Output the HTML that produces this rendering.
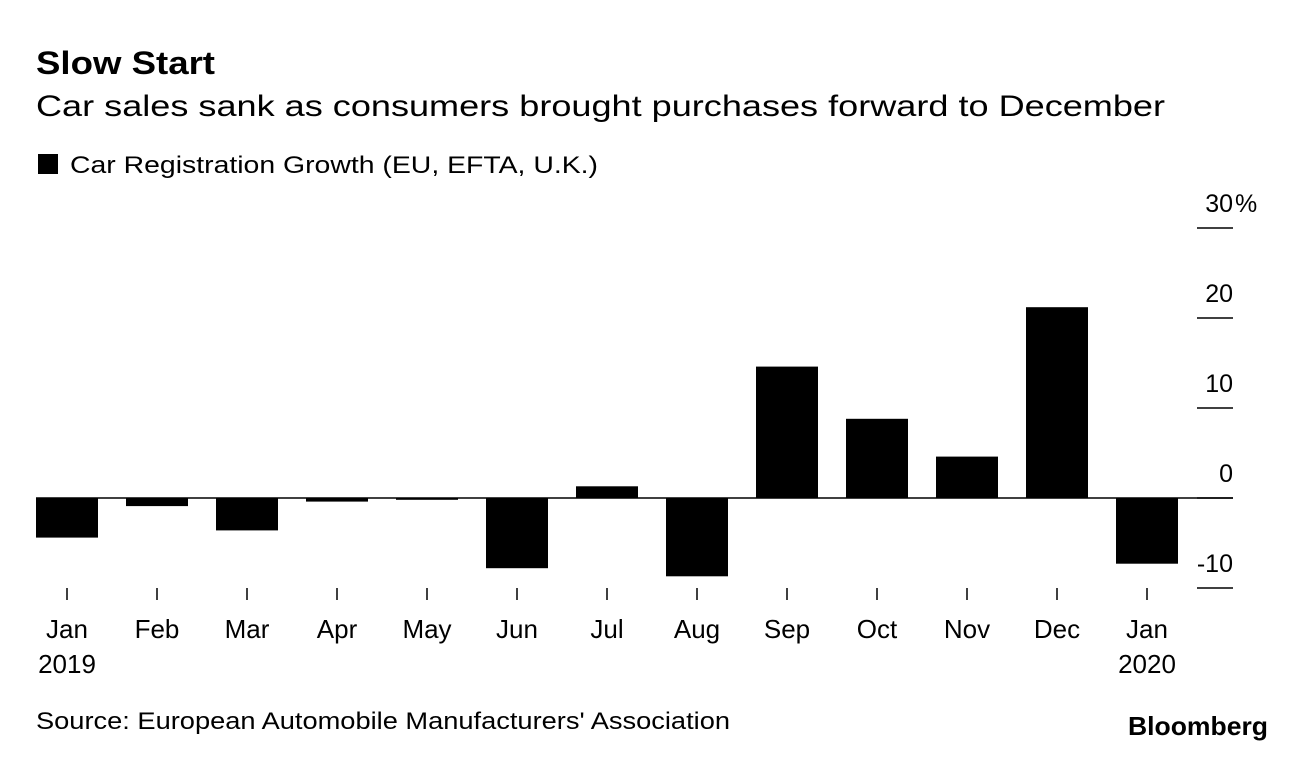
<!DOCTYPE html>
<html><head><meta charset="utf-8"><style>
body{margin:0;background:#fff;width:1296px;height:752px;overflow:hidden;font-family:"Liberation Sans",Arial,sans-serif;}
svg text{font-family:"Liberation Sans",Arial,sans-serif;}
</style></head><body>
<svg width="1296" height="752">
<text x="36" y="74" font-size="32" font-weight="bold" textLength="179" lengthAdjust="spacingAndGlyphs">Slow Start</text>
<text x="36" y="116" font-size="30" textLength="1129" lengthAdjust="spacingAndGlyphs">Car sales sank as consumers brought purchases forward to December</text>
<rect x="38" y="154" width="20" height="20" fill="#000"/>
<text x="70" y="173" font-size="24" textLength="528" lengthAdjust="spacingAndGlyphs">Car Registration Growth (EU, EFTA, U.K.)</text>
<g id="yaxis"></g>
<g id="bars"></g>
<g id="xaxis"></g>
<text x="36" y="729" font-size="24" textLength="694" lengthAdjust="spacingAndGlyphs">Source: European Automobile Manufacturers' Association</text>
<text x="1268" y="735" font-size="26" font-weight="bold" text-anchor="end" textLength="140" lengthAdjust="spacingAndGlyphs">Bloomberg</text>
</svg>
<script>
const categories=["Jan","Feb","Mar","Apr","May","Jun","Jul","Aug","Sep","Oct","Nov","Dec","Jan"];
const years=["2019","","","","","","","","","","","","2020"];
const values=[-4.4,-0.9,-3.6,-0.4,-0.2,-7.8,1.3,-8.7,14.6,8.8,4.6,21.2,-7.3];
const yTicks=[30,20,10,0,-10];
const yTickLabels=["30","20","10","0","-10"];
const NS="http://www.w3.org/2000/svg";
const y=v=>498-v*9;
const x=i=>67+i*90;
const bw=62;
function mk(tag,attrs,parent){const e=document.createElementNS(NS,tag);for(const k in attrs)e.setAttribute(k,attrs[k]);document.getElementById(parent).appendChild(e);return e;}
yTicks.forEach((t,i)=>{
  const l=mk('line',{x1:1197,x2:1233,y1:y(t),y2:y(t),stroke:'#000','stroke-width':1.5},'yaxis');
  
  
  const tx=mk('text',{x:1233,y:y(t)-16,'font-size':25,'text-anchor':'end'},'yaxis');
  tx.textContent=yTickLabels[i];
  
  
  if(i===0){
    const p=mk('text',{x:1235,y:y(t)-16,'font-size':25},'yaxis');
    p.textContent='%';
    
    
  }
});
values.forEach((v,i)=>{
  const r=mk('rect',{x:x(i)-bw/2,y:Math.min(y(v),y(0)),width:bw,height:Math.max(Math.abs(y(v)-y(0)),1),fill:'#000'},'bars');
  
  
});
const z=mk('line',{x1:36,x2:1233,y1:y(0),y2:y(0),stroke:'#000','stroke-width':1.5},'xaxis');


categories.forEach((c,i)=>{
  const t=mk('line',{x1:x(i),x2:x(i),y1:588,y2:600,stroke:'#000','stroke-width':1.5},'xaxis');
  
  
  const tx=mk('text',{x:x(i),y:638,'font-size':26,'text-anchor':'middle'},'xaxis');
  tx.textContent=c;
  
  
  if(years[i]){
    const yt=mk('text',{x:x(i),y:673,'font-size':26,'text-anchor':'middle'},'xaxis');
    yt.textContent=years[i];
    
    
  }
});
</script>
</body></html>
